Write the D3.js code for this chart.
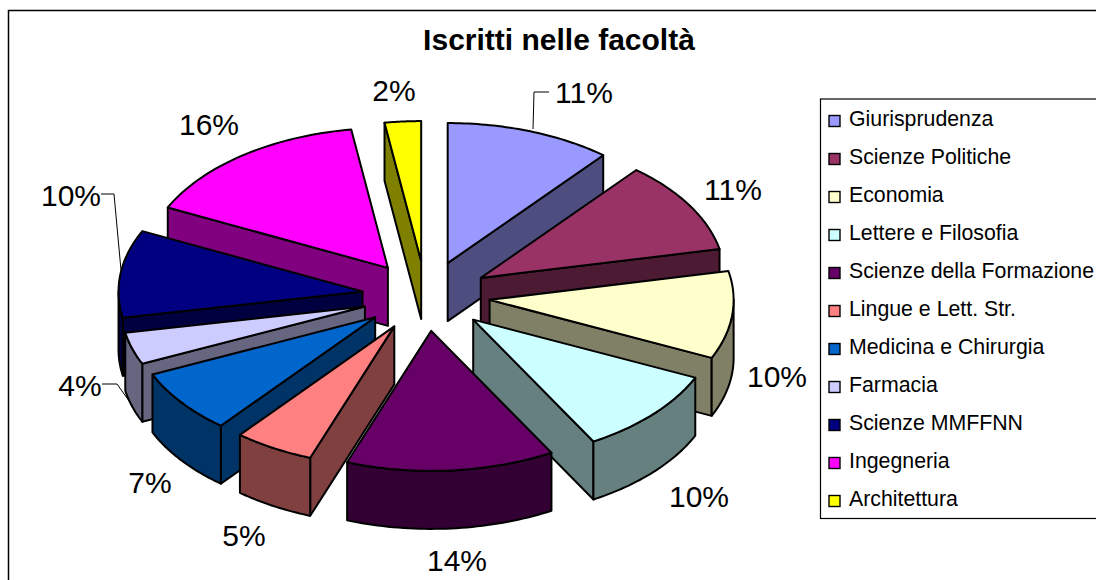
<!DOCTYPE html>
<html lang="it">

<head>
  <meta charset="UTF-8">
  <title>Iscritti nelle facoltà</title>
  <script src="https://d3js.org/d3.v7.min.js"></script>
  <style>
    body {
      margin: 0;
      background: #fff;
      font-family: "Liberation Sans", Arial, sans-serif;
    }

    svg {
      display: block;
    }

    .slice path {
      stroke: #000;
      stroke-width: 2px;
      stroke-linejoin: round;
    }

    .pct {
      font-size: 30px;
      fill: #000;
    }

    .leader {
      fill: none;
      stroke: #000;
      stroke-width: 1px;
    }

    .legend-label {
      font-size: 21.3px;
      fill: #000;
    }
  </style>
</head>

<body>
  <div id="chart"></div>

  <script>
    const faculties = [
      "Giurisprudenza", "Scienze Politiche", "Economia", "Lettere e Filosofia",
      "Scienze della Formazione", "Lingue e Lett. Str.", "Medicina e Chirurgia",
      "Farmacia", "Scienze MMFFNN", "Ingegneria", "Architettura"
    ];
    // percentages
    const shares = [11.0, 10.7, 10.1, 10.0, 13.8, 5.3, 7.4, 3.7, 10.1, 15.5, 2.4];
    const colors = [
      "#9999FF", "#993366", "#FFFFCC", "#CCFFFF", "#660066", "#FF8080",
      "#0066CC", "#CCCCFF", "#000080", "#FF00FF", "#FFFF00"
    ];

    // where the percent labels sit (same order as faculties)
    const labelAt = [
      [584, 103], [733, 200], [777, 387], [699, 507], [457, 571], [244, 546],
      [150, 493], [80, 396], [71, 206], [209, 135], [394, 101]
    ];
    const leaders = {
      0: [[533, 129], [534, 92], [549, 92]],
      8: [[121, 270], [114, 194], [101, 194]],
      7: [[132, 405], [117, 384], [102, 384]]
    };

    const width = 1096;
    const height = 580;

    const svg = d3.select("#chart")
      .append("svg")
      .attr("width", width)
      .attr("height", height);

    // chart frame, runs off the right and bottom of the picture
    svg.append("rect")
      .attr("x", 8.5)
      .attr("y", 10.5)
      .attr("width", width + 20)
      .attr("height", height + 20)
      .attr("fill", "#fff")
      .attr("stroke", "#000")
      .attr("stroke-width", 1.5);

    svg.append("text")
      .attr("x", 559)
      .attr("y", 50)
      .attr("text-anchor", "middle")
      .style("font-size", "30px")
      .style("font-weight", "bold")
      .text("Iscritti nelle facoltà");

    // tilted pie: unit circle -> screen ellipse
    const cx = 426;
    const cy = 296;
    const depth = 58;
    const xScale = d3.scaleLinear().domain([-1, 1]).range([-244, 244]);
    const yScale = d3.scaleLinear().domain([-1, 1]).range([-140, 140]);
    const explodeX = d3.scaleLinear().domain([-1, 1]).range([-64, 64]);
    const explodeY = d3.scaleLinear().domain([-1, 1]).range([-35, 35]);

    const pie = d3.pie().value(d => d).sort(null);
    const slices = pie(shares).map((p, i) => {
      const mid = (p.startAngle + p.endAngle) / 2;
      return {
        i,
        a0: p.startAngle,
        a1: p.endAngle,
        mid,
        ax: cx + explodeX(Math.sin(mid)),
        ay: cy - explodeY(Math.cos(mid))
      };
    });

    const line = d3.line();

    function rimPoint(s, a, dy) {
      return [s.ax + xScale(Math.sin(a)), s.ay - yScale(Math.cos(a)) + dy];
    }

    function rimPoints(s, from, to, dy) {
      return d3.range(0, 41).map(k => rimPoint(s, from + (to - from) * k / 40, dy));
    }

    function darken(c) {
      const rgb = d3.rgb(c);
      return d3.rgb(rgb.r / 2, rgb.g / 2, rgb.b / 2).formatHex();
    }

    // back slices first so the front ones cover them
    const order = slices.slice().sort((a, b) => Math.cos(b.mid) - Math.cos(a.mid));

    const groups = svg.selectAll(".slice")
      .data(order)
      .enter()
      .append("g")
      .attr("class", "slice");

    groups.each(function (s) {
      const g = d3.select(this);
      const side = darken(colors[s.i]);
      const walls = [];
      // radial walls only show when they face the viewer
      if (s.a0 > Math.PI) walls.push(s.a0);
      if (s.a1 < Math.PI) walls.push(s.a1);
      walls.forEach(a => {
        const r = rimPoint(s, a, 0);
        const rd = rimPoint(s, a, depth);
        g.append("path")
          .attr("fill", side)
          .attr("d", line([[s.ax, s.ay], r, rd, [s.ax, s.ay + depth]]) + "Z");
      });
      // outer rim, front half only
      const from = Math.max(s.a0, Math.PI / 2);
      const to = Math.min(s.a1, Math.PI * 1.5);
      if (to > from) {
        const pts = rimPoints(s, from, to, 0).concat(rimPoints(s, to, from, depth));
        g.append("path")
          .attr("fill", side)
          .attr("d", line(pts) + "Z");
      }
      // top face
      const top = [[s.ax, s.ay]].concat(rimPoints(s, s.a0, s.a1, 0));
      g.append("path")
        .attr("fill", colors[s.i])
        .attr("d", line(top) + "Z");
    });

    // leader lines
    Object.values(leaders).forEach(pts => {
      svg.append("path")
        .attr("class", "leader")
        .attr("d", line(pts));
    });

    // percent labels
    svg.selectAll(".pct")
      .data(shares)
      .enter()
      .append("text")
      .attr("class", "pct")
      .attr("x", (d, i) => labelAt[i][0])
      .attr("y", (d, i) => labelAt[i][1])
      .attr("text-anchor", "middle")
      .text(d => `${Math.round(d)}%`);

    // legend
    const legendY = d3.scaleBand()
      .domain(faculties)
      .range([100, 518]);

    svg.append("rect")
      .attr("x", 820.5)
      .attr("y", 99)
      .attr("width", 300)
      .attr("height", 419.5)
      .attr("fill", "#fff")
      .attr("stroke", "#000")
      .attr("stroke-width", 1.2);

    const items = svg.selectAll(".legend-item")
      .data(faculties)
      .enter()
      .append("g")
      .attr("class", "legend-item")
      .attr("transform", d => `translate(0, ${legendY(d) + legendY.bandwidth() / 2})`);

    items.append("rect")
      .attr("x", 829)
      .attr("y", -3.5)
      .attr("width", 11)
      .attr("height", 11)
      .attr("fill", (d, i) => colors[i])
      .attr("stroke", "#000")
      .attr("stroke-width", 1.4);

    items.append("text")
      .attr("class", "legend-label")
      .attr("x", 849)
      .attr("y", 7)
      .text(d => d);
  </script>
</body>

</html>
